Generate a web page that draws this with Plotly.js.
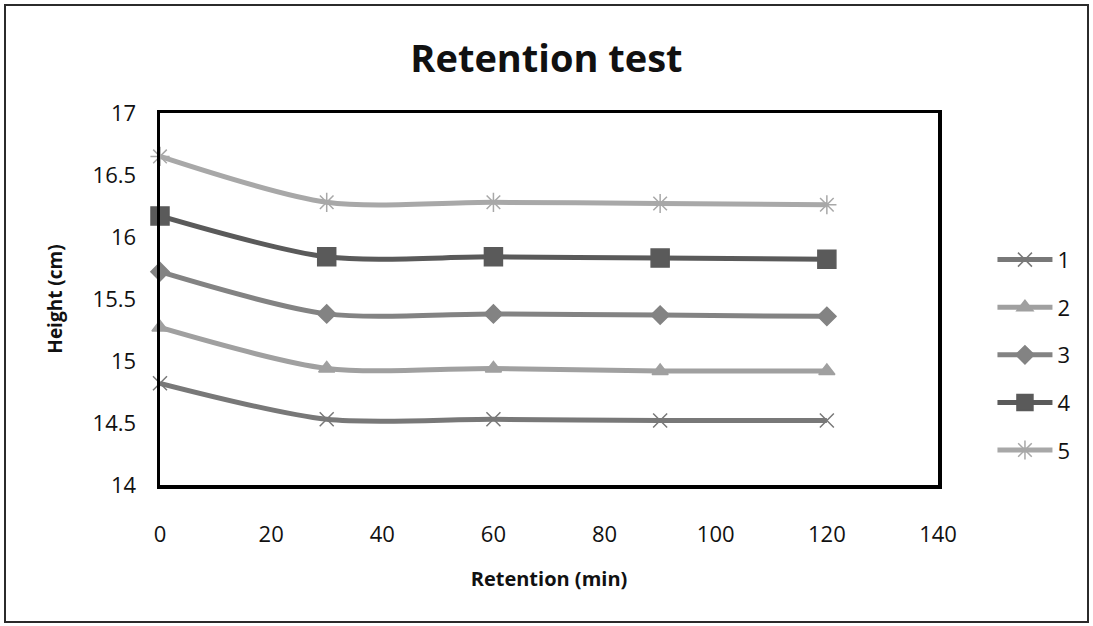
<!DOCTYPE html>
<html>
<head>
<meta charset="utf-8">
<script src="https://cdn.plot.ly/plotly-3.0.1.min.js"></script>
<style>
  html, body { margin: 0; padding: 0; background: #fff; }
  #wrap { position: relative; width: 1093px; height: 626px; overflow: hidden; }
  #frame { position: absolute; left: 4px; top: 4px; right: 4px; bottom: 3px; border: 2px solid #2b2b2b; pointer-events: none; z-index: 2; }
  #chart { position: absolute; left: 0; top: 0; width: 1093px; height: 626px; }
</style>
</head>
<body>
<div id="wrap">
  <div id="chart"></div>
  <div id="frame"></div>
</div>
<script>
// Retention time (min)
const retention = [0, 30, 60, 90, 120];

// Height (cm) for each sample
const sample1 = [14.82, 14.53, 14.53, 14.52, 14.52];
const sample2 = [15.27, 14.94, 14.94, 14.92, 14.92];
const sample3 = [15.72, 15.38, 15.38, 15.37, 15.36];
const sample4 = [16.17, 15.84, 15.84, 15.83, 15.82];
const sample5 = [16.65, 16.28, 16.28, 16.27, 16.26];

const seriesNames = ['1', '2', '3', '4', '5'];
const seriesData = [sample1, sample2, sample3, sample4, sample5];
const seriesColors = ['#787878', '#a0a0a0', '#838383', '#5a5a5a', '#a8a8a8'];
const seriesSymbols = ['x-thin-open', 'triangle-up', 'diamond', 'square', 'asterisk-open'];
const markerSizes = [14, 14, 14, 18, 16];

const font = '"Open Sans", Lato, "DejaVu Sans", sans-serif';

const traces = seriesData.map((vals, i) => ({
  x: retention,
  y: vals,
  name: seriesNames[i],
  type: 'scatter',
  mode: 'lines+markers',
  legendgroup: 'g' + i,
  line: { color: seriesColors[i], width: 5, shape: 'spline', smoothing: 0.8 },
  marker: {
    symbol: seriesSymbols[i],
    size: markerSizes[i],
    color: seriesColors[i],
    line: { color: seriesColors[i], width: 1.5 }
  },
  cliponaxis: false
}));

const layout = {
  width: 1093,
  height: 626,
  paper_bgcolor: '#ffffff',
  plot_bgcolor: '#ffffff',
  margin: { l: 160, r: 155, t: 113, b: 141 },
  font: { family: font, color: '#111' },
  title: {
    text: '<b>Retention test</b>',
    font: { family: font, size: 38, color: '#111' },
    x: 0.5, xanchor: 'center', y: 0.907, yanchor: 'middle'
  },
  xaxis: {
    range: [0, 140],
    dtick: 20,
    tick0: 0,
    showgrid: false,
    zeroline: false,
    showline: true,
    linecolor: '#000',
    linewidth: 3.5,
    mirror: true,
    ticks: '',
    ticklabelstandoff: 27,
    tickfont: { family: font, size: 22, color: '#111' },
    title: { text: '<b>Retention (min)</b>', font: { family: font, size: 20, color: '#111' }, standoff: 26 }
  },
  yaxis: {
    range: [14, 17],
    dtick: 0.5,
    tick0: 14,
    showgrid: false,
    zeroline: false,
    showline: true,
    linecolor: '#000',
    linewidth: 3.5,
    mirror: true,
    ticks: '',
    ticklabelstandoff: 16,
    tickfont: { family: font, size: 22, color: '#111' },
    title: { text: '<b>Height (cm)</b>', font: { family: font, size: 19, color: '#111' }, standoff: 26 }
  },
  showlegend: true,
  legend: {
    x: 1.07, xanchor: 'left',
    y: 0.35, yanchor: 'middle',
    font: { family: font, size: 22, color: '#111' },
    tracegroupgap: 16,
    itemwidth: 55,
    bgcolor: 'rgba(0,0,0,0)'
  }
};

Plotly.newPlot('chart', traces, layout, { displayModeBar: false, staticPlot: true });
</script>
</body>
</html>
